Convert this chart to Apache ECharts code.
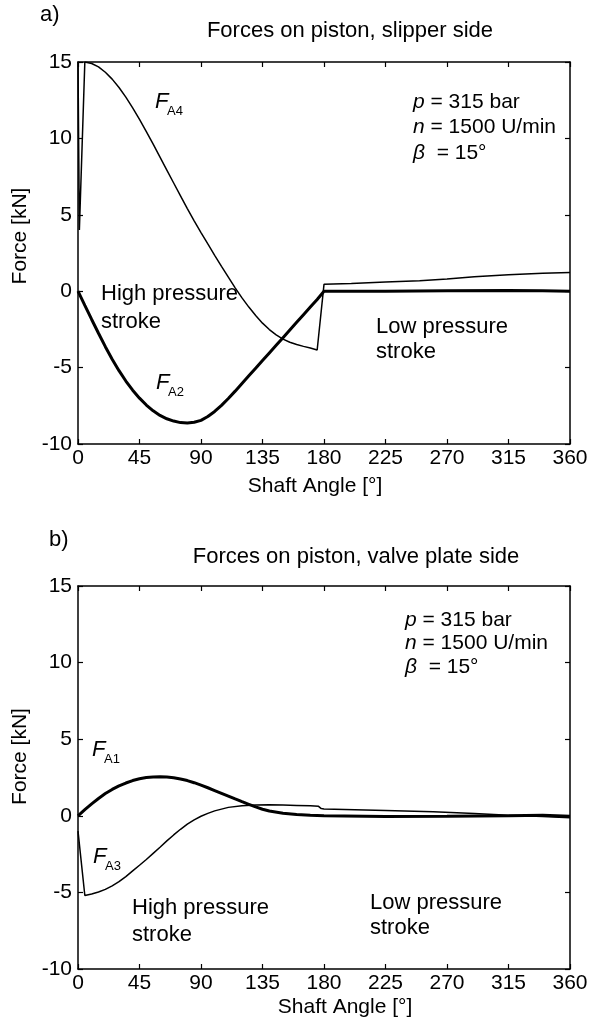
<!DOCTYPE html>
<html>
<head>
<meta charset="utf-8">
<script src="https://cdn.jsdelivr.net/npm/echarts@6/dist/echarts.min.js"></script>
<style>
  html, body { margin: 0; padding: 0; background: #fff; }
  #chart { width: 611px; height: 1034px; }
</style>
</head>
<body>
<div id="chart"></div>
<script>
// slipper side (a)
const fa4Angle = [0, 1, 5, 10, 15, 20, 25, 30, 35, 40, 45, 50, 55, 60, 65, 70, 75, 80, 85, 90, 95, 100, 105, 110, 115, 120, 125, 130, 135, 140, 145, 150, 155, 160, 165, 170, 175, 180, 200, 225, 250, 270, 290, 315, 340, 360];
const fa4Force = [15.0, 4.0, 15.0, 14.9, 14.68, 14.33, 13.88, 13.33, 12.7, 12.0, 11.25, 10.45, 9.62, 8.78, 7.93, 7.08, 6.24, 5.41, 4.61, 3.84, 3.09, 2.35, 1.63, 0.92, 0.22, -0.44, -1.04, -1.59, -2.09, -2.51, -2.86, -3.14, -3.34, -3.49, -3.61, -3.72, -3.85, 0.45, 0.5, 0.6, 0.68, 0.8, 0.95, 1.08, 1.18, 1.22];
const fa2Angle = [0, 5, 10, 15, 20, 25, 30, 35, 40, 45, 50, 55, 60, 65, 70, 75, 80, 85, 90, 95, 100, 105, 110, 115, 120, 125, 130, 135, 140, 145, 150, 155, 160, 165, 170, 175, 180, 225, 270, 315, 340, 360];
const fa2Force = [0, -0.93, -1.85, -2.75, -3.63, -4.45, -5.2, -5.88, -6.48, -7.0, -7.45, -7.83, -8.13, -8.35, -8.5, -8.6, -8.63, -8.58, -8.45, -8.2, -7.87, -7.47, -7.02, -6.54, -6.04, -5.54, -5.04, -4.54, -4.04, -3.54, -3.04, -2.54, -2.04, -1.54, -1.04, -0.54, 0, 0, 0.03, 0.05, 0.03, 0];

// valve plate side (b)
const fa1Angle = [0, 5, 10, 15, 20, 25, 30, 35, 40, 45, 50, 55, 60, 65, 70, 75, 80, 85, 90, 95, 100, 105, 110, 115, 120, 125, 130, 135, 140, 150, 160, 170, 180, 225, 270, 315, 340, 360];
const fa1Force = [0, 0.4, 0.78, 1.13, 1.45, 1.72, 1.95, 2.14, 2.3, 2.42, 2.5, 2.54, 2.55, 2.53, 2.48, 2.4, 2.3, 2.16, 2.0, 1.83, 1.65, 1.47, 1.29, 1.1, 0.92, 0.75, 0.58, 0.43, 0.31, 0.17, 0.08, 0.03, 0, -0.05, -0.03, 0, 0.03, -0.03];
const fa3Angle = [0, 5, 10, 15, 20, 25, 30, 35, 40, 45, 50, 55, 60, 65, 70, 75, 80, 85, 90, 95, 100, 110, 120, 130, 140, 150, 160, 170, 176, 178, 180, 225, 260, 290, 315, 340, 360];
const fa3Force = [-1.0, -5.2, -5.1, -4.97, -4.8, -4.57, -4.3, -3.97, -3.6, -3.23, -2.85, -2.45, -2.05, -1.64, -1.25, -0.88, -0.55, -0.27, -0.03, 0.16, 0.32, 0.55, 0.66, 0.7, 0.72, 0.7, 0.68, 0.65, 0.62, 0.47, 0.45, 0.35, 0.27, 0.15, 0.03, -0.05, -0.12];

const xRange = [0, 360];
const yRange = [-10, 15];

const FONT = "'Liberation Sans', Arial, sans-serif";
const chart = echarts.init(document.getElementById("chart"));

const zip = (xs, ys) => xs.map((x, i) => [x, ys[i]]);

const axisLine = { onZero: false, lineStyle: { color: "#000", width: 1.5 } };
const tick = { inside: true, length: 5, lineStyle: { color: "#000", width: 1.2 } };

const makeX = (grid, pos, withLabels, namePad, nameGap) => ({
  type: "value",
  gridIndex: grid,
  position: pos,
  min: xRange[0],
  max: xRange[1],
  interval: 45,
  axisLine: axisLine,
  axisTick: tick,
  splitLine: { show: false },
  axisLabel: {
    show: withLabels,
    fontSize: 21,
    fontFamily: FONT,
    color: "#000",
    margin: 4,
  },
  name: withLabels ? "Shaft Angle [°]" : "",
  nameLocation: "middle",
  nameGap: nameGap,
  nameTextStyle: { fontSize: 21, fontFamily: FONT, color: "#000", padding: namePad },
});

const makeY = (grid, pos, withLabels, namePad) => ({
  type: "value",
  gridIndex: grid,
  position: pos,
  min: yRange[0],
  max: yRange[1],
  interval: 5,
  axisLine: axisLine,
  axisTick: tick,
  splitLine: { show: false },
  axisLabel: {
    show: withLabels,
    fontSize: 21,
    fontFamily: FONT,
    color: "#000",
    margin: 6,
    padding: [0, 0, 8, 0],
  },
  name: withLabels ? "Force [kN]" : "",
  nameLocation: "middle",
  nameGap: 38,
  nameTextStyle: { fontSize: 21, fontFamily: FONT, color: "#000", padding: namePad },
});

const line = (name, data, xi, yi, width) => ({
  name: name,
  type: "line",
  xAxisIndex: xi,
  yAxisIndex: yi,
  data: data,
  showSymbol: false,
  smooth: false,
  lineStyle: { color: "#000", width: width },
  itemStyle: { color: "#000" },
  z: width > 2 ? 3 : 4,
});

// text helpers
const txt = (x, y, text, size, extra) => ({
  type: "text",
  silent: true,
  style: Object.assign({
    x: x,
    y: y,
    text: text,
    font: size + "px " + FONT,
    fill: "#000",
    textAlign: "left",
    textVerticalAlign: "middle",
    align: "left",
    verticalAlign: "middle",
  }, extra || {}),
});

const italicRich = {
  i: { fontStyle: "italic", fontSize: 21, fontFamily: FONT, fill: "#000", color: "#000" },
  r: { fontSize: 21, fontFamily: FONT, fill: "#000", color: "#000" },
};
const params = (x, y0, dy) => [
  txt(x, y0, "{i|p}{r| = 315 bar}", 21, { rich: italicRich }),
  txt(x, y0 + dy, "{i|n}{r| = 1500 U/min}", 21, { rich: italicRich }),
  txt(x, y0 + 2 * dy, "{i|β}{r|  = 15°}", 21, { rich: italicRich }),
];
const forceLabel = (x, y, sub) => [
  txt(x, y, "F", 22, { font: "italic 22px " + FONT }),
  txt(x + 12, y + 9, sub, 13),
];

const option = {
  animation: false,
  backgroundColor: "#fff",
  grid: [
    { left: 78, top: 62, width: 492, height: 382 },
    { left: 78, top: 586, width: 492, height: 383 },
  ],
  xAxis: [
    makeX(0, "bottom", true, [0, 18, 0, 0], 32),
    makeX(0, "top", false, 0, 0),
    makeX(1, "bottom", true, [0, 0, 0, 42], 28),
    makeX(1, "top", false, 0, 0),
  ],
  yAxis: [
    makeY(0, "left", true, [0, 0, 0, 34]),
    makeY(0, "right", false, 0),
    makeY(1, "left", true, [0, 0, 0, 42]),
    makeY(1, "right", false, 0),
  ],
  series: [
    line("FA4", zip(fa4Angle, fa4Force), 0, 0, 1.5),
    line("FA2", zip(fa2Angle, fa2Force), 0, 0, 3),
    line("FA1", zip(fa1Angle, fa1Force), 2, 2, 3),
    line("FA3", zip(fa3Angle, fa3Force), 2, 2, 1.5),
  ],
  graphic: [
    txt(40, 15, "a)", 22),
    txt(350, 31, "Forces on piston, slipper side", 22, { textAlign: "center", align: "center" }),
    ...params(413, 102, 25.5),
    ...forceLabel(155, 102, "A4"),
    ...forceLabel(156, 383, "A2"),
    txt(101, 294, "High pressure", 22),
    txt(101, 322, "stroke", 22),
    txt(376, 327, "Low pressure", 22),
    txt(376, 352, "stroke", 22),

    txt(49, 540, "b)", 22),
    txt(356, 557, "Forces on piston, valve plate side", 22, { textAlign: "center", align: "center" }),
    ...params(405, 620, 23.5),
    ...forceLabel(92, 750, "A1"),
    ...forceLabel(93, 857, "A3"),
    txt(132, 908, "High pressure", 22),
    txt(132, 935, "stroke", 22),
    txt(370, 903, "Low pressure", 22),
    txt(370, 928, "stroke", 22),
  ],
};

chart.setOption(option);
</script>
</body>
</html>
